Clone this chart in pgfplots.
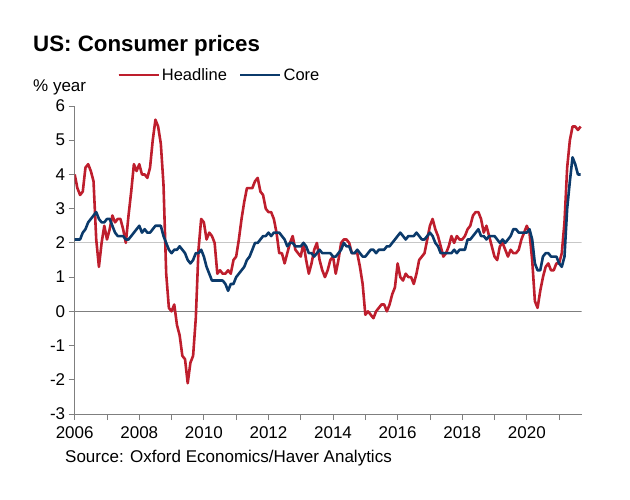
\documentclass[border=0pt]{standalone}
\usepackage{pgfplots}
\pgfplotsset{compat=1.18}
\usepackage{pgfplotstable}
\usepackage{fontspec}
\setmainfont{Liberation Sans}

\definecolor{headred}{HTML}{BE1E2D}
\definecolor{corenavy}{HTML}{0B3A6B}
\definecolor{axisgray}{HTML}{7F7F7F}

% US CPI, % year on year, monthly Jan 2006 - Sep 2021
\pgfplotstableread{
year month headline core
2006 1 4.0 2.1
2006 2 3.6 2.1
2006 3 3.4 2.1
2006 4 3.5 2.3
2006 5 4.2 2.4
2006 6 4.3 2.6
2006 7 4.1 2.7
2006 8 3.8 2.8
2006 9 2.1 2.9
2006 10 1.3 2.7
2006 11 2.0 2.6
2006 12 2.5 2.6
2007 1 2.1 2.7
2007 2 2.4 2.7
2007 3 2.8 2.5
2007 4 2.6 2.3
2007 5 2.7 2.2
2007 6 2.7 2.2
2007 7 2.4 2.2
2007 8 2.0 2.1
2007 9 2.8 2.1
2007 10 3.5 2.2
2007 11 4.3 2.3
2007 12 4.1 2.4
2008 1 4.3 2.5
2008 2 4.0 2.3
2008 3 4.0 2.4
2008 4 3.9 2.3
2008 5 4.2 2.3
2008 6 5.0 2.4
2008 7 5.6 2.5
2008 8 5.4 2.5
2008 9 4.9 2.5
2008 10 3.7 2.2
2008 11 1.1 2.0
2008 12 0.1 1.8
2009 1 0.0 1.7
2009 2 0.2 1.8
2009 3 -0.4 1.8
2009 4 -0.7 1.9
2009 5 -1.3 1.8
2009 6 -1.4 1.7
2009 7 -2.1 1.5
2009 8 -1.5 1.4
2009 9 -1.3 1.5
2009 10 -0.2 1.7
2009 11 1.8 1.7
2009 12 2.7 1.8
2010 1 2.6 1.6
2010 2 2.1 1.3
2010 3 2.3 1.1
2010 4 2.2 0.9
2010 5 2.0 0.9
2010 6 1.1 0.9
2010 7 1.2 0.9
2010 8 1.1 0.9
2010 9 1.1 0.8
2010 10 1.2 0.6
2010 11 1.1 0.8
2010 12 1.5 0.8
2011 1 1.6 1.0
2011 2 2.1 1.1
2011 3 2.7 1.2
2011 4 3.2 1.3
2011 5 3.6 1.5
2011 6 3.6 1.6
2011 7 3.6 1.8
2011 8 3.8 2.0
2011 9 3.9 2.0
2011 10 3.5 2.1
2011 11 3.4 2.2
2011 12 3.0 2.2
2012 1 2.9 2.3
2012 2 2.9 2.2
2012 3 2.7 2.3
2012 4 2.3 2.3
2012 5 1.7 2.3
2012 6 1.7 2.2
2012 7 1.4 2.1
2012 8 1.7 1.9
2012 9 2.0 2.0
2012 10 2.2 2.0
2012 11 1.8 1.9
2012 12 1.7 1.9
2013 1 1.6 1.9
2013 2 2.0 2.0
2013 3 1.5 1.9
2013 4 1.1 1.7
2013 5 1.4 1.7
2013 6 1.8 1.6
2013 7 2.0 1.7
2013 8 1.5 1.8
2013 9 1.2 1.7
2013 10 1.0 1.7
2013 11 1.2 1.7
2013 12 1.5 1.7
2014 1 1.6 1.6
2014 2 1.1 1.6
2014 3 1.5 1.7
2014 4 2.0 1.8
2014 5 2.1 2.0
2014 6 2.1 1.9
2014 7 2.0 1.9
2014 8 1.7 1.7
2014 9 1.7 1.7
2014 10 1.7 1.8
2014 11 1.3 1.7
2014 12 0.8 1.6
2015 1 -0.1 1.6
2015 2 0.0 1.7
2015 3 -0.1 1.8
2015 4 -0.2 1.8
2015 5 0.0 1.7
2015 6 0.1 1.8
2015 7 0.2 1.8
2015 8 0.2 1.8
2015 9 0.0 1.9
2015 10 0.2 1.9
2015 11 0.5 2.0
2015 12 0.7 2.1
2016 1 1.4 2.2
2016 2 1.0 2.3
2016 3 0.9 2.2
2016 4 1.1 2.1
2016 5 1.0 2.2
2016 6 1.0 2.2
2016 7 0.8 2.2
2016 8 1.1 2.3
2016 9 1.5 2.2
2016 10 1.6 2.1
2016 11 1.7 2.1
2016 12 2.1 2.2
2017 1 2.5 2.3
2017 2 2.7 2.2
2017 3 2.4 2.0
2017 4 2.2 1.9
2017 5 1.9 1.7
2017 6 1.6 1.7
2017 7 1.7 1.7
2017 8 1.9 1.7
2017 9 2.2 1.7
2017 10 2.0 1.8
2017 11 2.2 1.7
2017 12 2.1 1.8
2018 1 2.1 1.8
2018 2 2.2 1.8
2018 3 2.4 2.1
2018 4 2.5 2.1
2018 5 2.8 2.2
2018 6 2.9 2.3
2018 7 2.9 2.4
2018 8 2.7 2.2
2018 9 2.3 2.2
2018 10 2.5 2.1
2018 11 2.2 2.2
2018 12 1.9 2.2
2019 1 1.6 2.2
2019 2 1.5 2.1
2019 3 1.9 2.0
2019 4 2.0 2.1
2019 5 1.8 2.0
2019 6 1.6 2.1
2019 7 1.8 2.2
2019 8 1.7 2.4
2019 9 1.7 2.4
2019 10 1.8 2.3
2019 11 2.1 2.3
2019 12 2.3 2.3
2020 1 2.5 2.3
2020 2 2.3 2.4
2020 3 1.5 2.1
2020 4 0.3 1.4
2020 5 0.1 1.2
2020 6 0.6 1.2
2020 7 1.0 1.6
2020 8 1.3 1.7
2020 9 1.4 1.7
2020 10 1.2 1.6
2020 11 1.2 1.6
2020 12 1.4 1.6
2021 1 1.4 1.4
2021 2 1.7 1.3
2021 3 2.6 1.6
2021 4 4.2 3.0
2021 5 5.0 3.8
2021 6 5.4 4.5
2021 7 5.4 4.3
2021 8 5.3 4.0
2021 9 5.4 4.0
}\cpi

\begin{document}
\begin{tikzpicture}
\useasboundingbox (0pt,0pt) rectangle (630pt,499pt);
\node[anchor=base west, inner sep=0pt, font=\bfseries\fontsize{22.3}{26}\selectfont] at (33pt,447pt) {US: Consumer prices};
\node[anchor=base west, inner sep=0pt, font=\fontsize{17}{20}\selectfont] at (33pt,407pt) {\% year};
\node[anchor=base west, inner sep=0pt, font=\fontsize{17}{20}\selectfont] at (65pt,37pt) {Source: Oxford Economics/Haver Analytics};
\begin{axis}[
  at={(74.7pt,85pt)}, anchor=south west,
  scale only axis, width=507pt, height=308pt,
  xmin=2006, xmax=2021.7,
  ymin=-3, ymax=6,
  axis x line*=bottom, axis y line*=left,
  axis line style={axisgray, line width=0.8pt, -},
  xtick={2006,2008,...,2020},
  minor xtick={2007,2009,...,2021},
  ytick={-3,...,6},
  tick align=outside,
  major tick length=6pt, minor tick length=6pt,
  tick style={axisgray, line width=0.8pt},
  /pgf/number format/assume math mode=true,
  xticklabel={\pgfmathprintnumber[1000 sep=]{\tick}},
  tick label style={font=\fontsize{17}{20}\selectfont},
  x tick label style={yshift=-3pt},
  legend style={draw=none, fill=none, inner sep=0pt,
    at={(axis description cs:0.0836,1.1006)}, anchor=west,
    font=\fontsize{16.5}{20}\selectfont},
  legend columns=2,
  legend cell align=left,
  /tikz/every even column/.append style={column sep=10pt},
  legend image code/.code={\draw[#1, line width=2.6pt] (0pt,0pt) -- (36pt,0pt);
    \path (0pt,0pt) -- (40pt,0pt);},
]
\addplot[forget plot, color=black!22, line width=0.8pt] coordinates {(2006,2) (2021.7,2)};
\addplot[forget plot, color=axisgray, line width=0.8pt] coordinates {(2006,0) (2021.7,0)};
\addplot[headred, line width=2.6pt, line join=round]
  table[x expr={\thisrow{year}+(\thisrow{month}-1)/12}, y=headline] {\cpi};
\addplot[corenavy, line width=2.6pt, line join=round]
  table[x expr={\thisrow{year}+(\thisrow{month}-1)/12}, y=core] {\cpi};
\legend{Headline,Core}
\end{axis}
\end{tikzpicture}
\end{document}
